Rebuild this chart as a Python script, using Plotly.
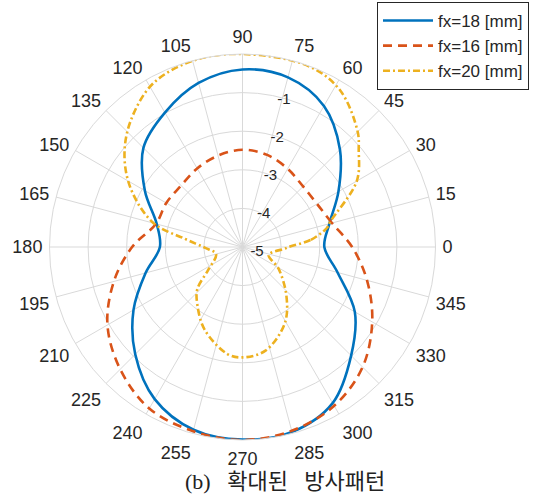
import plotly.graph_objects as go

# angles (deg) and normalized gain (dB)
theta_18 = [0, 15, 30, 45, 60, 75, 90, 105, 120, 135, 150, 165, 180, 195, 210, 225,
            240, 255, 270, 285, 300, 315, 330, 345, 360]
gain_18 = [-2.88, -2.67, -2.13, -1.43, -0.78, -0.45, -0.40, -0.60, -0.98, -1.37, -2.08, -2.70,
           -2.86, -2.40, -1.74, -1.07, -0.45, -0.10, -0.01, -0.04, -0.33, -1.02, -1.64, -2.45, -2.88]

theta_16 = [0, 15, 30, 45, 60, 75, 90, 105, 120, 135, 150, 165, 180, 195, 210, 225,
            240, 255, 270, 285, 300, 315, 330, 345, 360]
gain_16 = [-2.16, -2.60, -2.77, -2.78, -2.66, -2.53, -2.48, -2.55, -2.65, -2.75, -2.72, -2.68,
           -2.14, -1.55, -0.96, -0.52, -0.17, -0.06, 0.00, -0.07, -0.25, -0.60, -1.12, -1.66, -2.16]

theta_20 = [0, 6, 12.7, 16, 30, 40, 45, 58, 70, 90, 104, 118.6, 131.5, 142, 152.5, 164.8, 172,
            181, 195, 214, 223, 232, 245.5, 262, 270, 282.5, 299, 312, 329, 343, 358, 360]
gain_20 = [-3.80, -3.22, -2.76, -2.64, -1.58, -1.07, -0.78, -0.22, -0.01, 0.00, 0.00, -0.17,
           -0.63, -1.12, -1.74, -2.60, -3.50, -4.02, -4.29, -3.92, -3.40, -3.10, -2.64, -2.20,
           -2.14, -2.25, -2.74, -3.30, -3.91, -4.29, -3.89, -3.80]

series_names = ["fx=18 [mm]", "fx=16 [mm]", "fx=20 [mm]"]
radial_ticks = [-5, -4, -3, -2, -1]
radial_text = ["-5", "-4", "-3", "-2", "-1"]
angle_ticks = list(range(0, 360, 15))
angle_text = [str(a) for a in angle_ticks]

fig = go.Figure()
fig.add_trace(go.Scatterpolar(r=gain_18, theta=theta_18, mode="lines", name=series_names[0],
                              line=dict(color="#0072BD", width=2.6, shape="spline")))
fig.add_trace(go.Scatterpolar(r=gain_16, theta=theta_16, mode="lines", name=series_names[1],
                              line=dict(color="#D95319", width=2.6, dash="9px,6px", shape="spline")))
fig.add_trace(go.Scatterpolar(r=gain_20, theta=theta_20, mode="lines", name=series_names[2],
                              line=dict(color="#EDB120", width=2.6, dash="7px,3px,2px,3px",
                                        shape="spline")))

W, H = 533, 494
cx, cy, R = 242.5, 247, 193
grid = "#d9d9d9"
fig.update_layout(
    width=W, height=H,
    margin=dict(l=0, r=0, t=0, b=0),
    paper_bgcolor="white",
    font=dict(family="Liberation Sans, Arial, sans-serif", color="#262626"),
    polar=dict(
        domain=dict(x=[(cx - R) / W, (cx + R) / W], y=[(H - cy - R) / H, (H - cy + R) / H]),
        bgcolor="white",
        angularaxis=dict(rotation=0, direction="counterclockwise",
                         tickmode="array", tickvals=angle_ticks, ticktext=angle_text,
                         showgrid=True, gridcolor=grid, gridwidth=1,
                         showline=True, linecolor=grid, linewidth=1,
                         ticks="outside", ticklen=3, tickcolor="rgba(0,0,0,0)",
                         tickfont=dict(size=18, color="#262626")),
        radialaxis=dict(range=[-5, 0], tickmode="array", tickvals=radial_ticks,
                        ticktext=radial_text, angle=80, tickangle=80,
                        showline=False, ticks="", gridcolor=grid, gridwidth=1,
                        tickfont=dict(size=15, color="#262626")),
    ),
    legend=dict(x=377 / W, y=1 - 2 / H, xanchor="left", yanchor="top",
                bgcolor="white", bordercolor="#262626", borderwidth=1, itemwidth=50,
                font=dict(size=17, color="#262626"), tracegroupgap=0),
    annotations=[dict(text="(b)\u2002 확대된\u2002 방사패턴", x=285 / W, y=1 - 481 / H,
                      xref="paper", yref="paper", xanchor="center", yanchor="middle",
                      showarrow=False,
                      font=dict(size=22, family="Liberation Serif, Noto Sans CJK KR",
                                color="#222222"))],
)

fig.write_html("out.html", config={"displayModeBar": False},
               post_script="document.body.style.margin='0';")
